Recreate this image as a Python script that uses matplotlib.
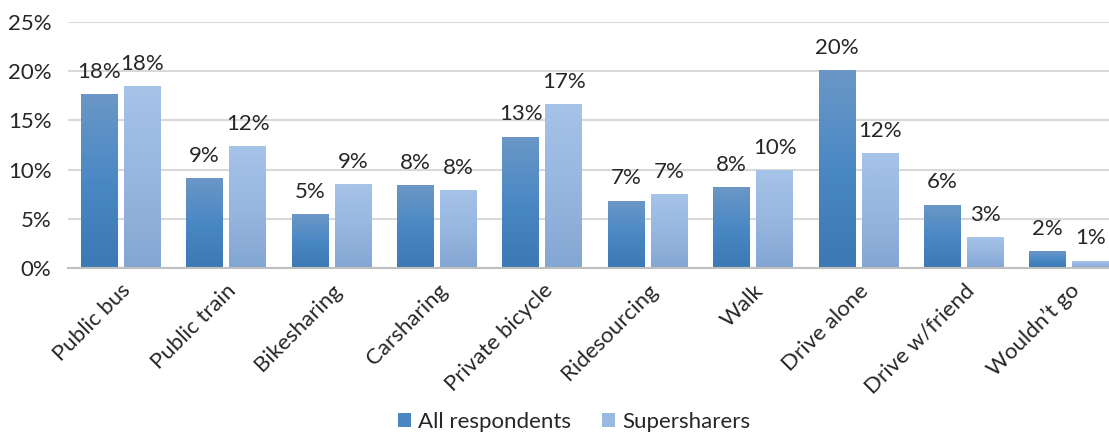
import matplotlib
matplotlib.use("Agg")
import matplotlib.pyplot as plt
import numpy as np
from matplotlib.colors import LinearSegmentedColormap
from matplotlib.patches import Patch

categories = ["Public bus", "Public train", "Bikesharing", "Carsharing", "Private bicycle",
              "Ridesourcing", "Walk", "Drive alone", "Drive w/friend", "Wouldn\u2019t go"]
all_respondents = [17.6, 9.1, 5.4, 8.4, 13.3, 6.8, 8.2, 20.1, 6.4, 1.7]
supersharers = [18.4, 12.3, 8.5, 7.9, 16.6, 7.5, 9.9, 11.6, 3.1, 0.7]
all_labels = ["18%", "9%", "5%", "8%", "13%", "7%", "8%", "20%", "6%", "2%"]
super_labels = ["18%", "12%", "9%", "8%", "17%", "7%", "10%", "12%", "3%", "1%"]
yticks = [0, 5, 10, 15, 20, 25]

plt.rcParams['font.family'] = ['Lato', 'DejaVu Sans']
txt = '#262626'

fig = plt.figure(figsize=(11.09, 4.34), dpi=100)
ax = fig.add_axes([68/1109, 1-268/434, 1-68/1109, (268-22)/434])

n = len(categories)
x = np.arange(n)
w = 0.351
off = 0.204

cm_dark = LinearSegmentedColormap.from_list('d', ['#3b78b4', '#4a88c4', '#6b97c7'])
cm_light = LinearSegmentedColormap.from_list('l', ['#83a6d2', '#97b7e0', '#a6c3e8'])
grad = np.linspace(0, 1, 256).reshape(-1, 1)

def draw(vals, labels, dx, cmap):
    for xi, v, lab in zip(x, vals, labels):
        x0 = xi + dx - w/2
        ax.imshow(grad, extent=[x0, x0 + w, 0, v], origin='lower', cmap=cmap,
                  aspect='auto', zorder=3, interpolation='bicubic')
        ax.annotate(lab, (xi + dx, v), xytext=(0, 12), textcoords='offset points',
                    ha='center', va='baseline', fontsize=16, color=txt, zorder=4)

draw(all_respondents, all_labels, -off, cm_dark)
draw(supersharers, super_labels, off, cm_light)

ax.set_xlim(-0.5, (1109-68)/105.4 - 0.5)
ax.set_ylim(0, 25)
ax.set_yticks(yticks)
ax.set_yticklabels([f"{t}%" for t in yticks], fontsize=16, color=txt)
ax.set_xticks(x)
ax.set_xticklabels(categories, rotation=45, ha='right', rotation_mode='anchor',
                   fontsize=16, color=txt)
ax.tick_params(axis='both', length=0)
ax.tick_params(axis='y', pad=12)
ax.tick_params(axis='x', pad=9)
ax.grid(axis='y', color='#d9d9d9', linewidth=1.5, zorder=0)
ax.set_axisbelow(True)
for s in ['top', 'right', 'left']:
    ax.spines[s].set_visible(False)
ax.spines['bottom'].set_color('#bfbfbf')
ax.spines['bottom'].set_linewidth(1.5)
ax.spines['bottom'].set_zorder(5)

handles = [Patch(facecolor='#4a86c0', label='All respondents'),
           Patch(facecolor='#9ab9e1', label='Supersharers')]
fig.legend(handles=handles, loc='center', bbox_to_anchor=(574/1109, 1-422/434), ncol=2,
           frameon=False, fontsize=16, handlelength=0.6, handleheight=0.6,
           handletextpad=0.3, columnspacing=1.4, labelcolor=txt)

fig.savefig('out.png', dpi=100)
